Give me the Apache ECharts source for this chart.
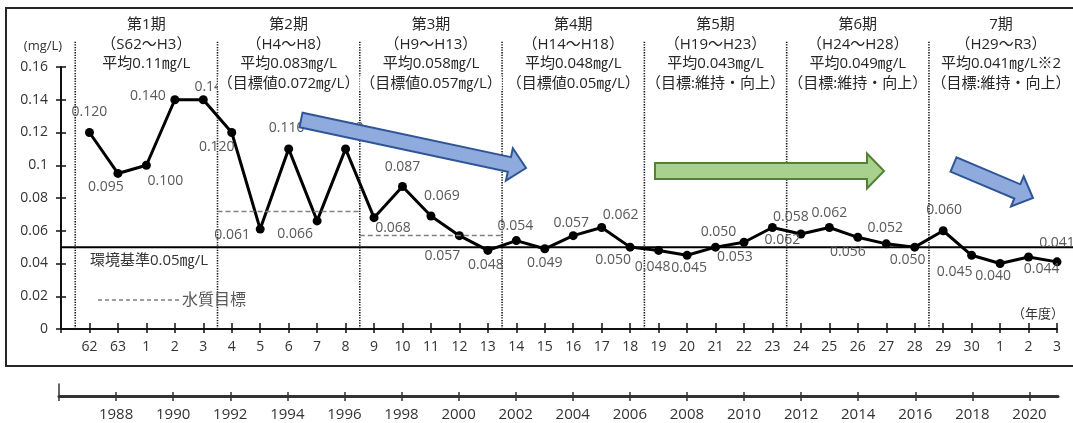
<!DOCTYPE html>
<html>
<head>
<meta charset="utf-8">
<script src="https://cdn.jsdelivr.net/npm/echarts@6/dist/echarts.min.js"></script>
<style>
  html, body { margin: 0; padding: 0; background: #fff; }
  #chart { width: 1073px; height: 423px; }
</style>
</head>
<body>
<div id="chart"></div>
<script>
// Fiscal years S62 (1987) through R3 (2021)
const fiscalYears = [
  1987, 1988, 1989, 1990, 1991, 1992, 1993, 1994, 1995, 1996,
  1997, 1998, 1999, 2000, 2001, 2002, 2003, 2004, 2005, 2006,
  2007, 2008, 2009, 2010, 2011, 2012, 2013, 2014, 2015, 2016,
  2017, 2018, 2019, 2020, 2021
];
// Japanese era year shown under each fiscal year (昭和62・63, 平成1-30, 令和1-3)
const eraLabels = [
  '62', '63', '1', '2', '3', '4', '5', '6', '7', '8',
  '9', '10', '11', '12', '13', '14', '15', '16', '17', '18',
  '19', '20', '21', '22', '23', '24', '25', '26', '27', '28',
  '29', '30', '1', '2', '3'
];
// Annual mean concentration (mg/L)
const concentration = [
  0.120, 0.095, 0.100, 0.140, 0.140, 0.120, 0.061, 0.110, 0.066, 0.110,
  0.068, 0.087, 0.069, 0.057, 0.048, 0.054, 0.049, 0.057, 0.062, 0.050,
  0.048, 0.045, 0.050, 0.053, 0.062, 0.058, 0.062, 0.056, 0.052, 0.050,
  0.060, 0.045, 0.040, 0.044, 0.041
];
const yTickLabels = ['0', '0.02', '0.04', '0.06', '0.08', '0.1', '0.12', '0.14', '0.16'];

// Environmental standard and per-period water quality targets
const envStandard = 0.05;
const targetSegments = [
  { from: 1991.5, to: 1996.5, value: 0.072 },
  { from: 1996.5, to: 2001.5, value: 0.057 }
];

// Period boundaries (between fiscal years) and their headings
const periodDividers = [1986.5, 1991.5, 1996.5, 2001.5, 2006.5, 2011.5, 2016.5];
const periodTitles = [
  ['第1期', '（S62〜H3）', '平均0.11㎎/L'],
  ['第2期', '（H4〜H8）', '平均0.083㎎/L', '（目標値0.072㎎/L）'],
  ['第3期', '（H9〜H13）', '平均0.058㎎/L', '（目標値0.057㎎/L）'],
  ['第4期', '（H14〜H18）', '平均0.048㎎/L', '（目標値0.05㎎/L）'],
  ['第5期', '（H19〜H23）', '平均0.043㎎/L', '（目標:維持・向上）'],
  ['第6期', '（H24〜H28）', '平均0.049㎎/L', '（目標:維持・向上）'],
  ['7期', '（H29〜R3）', '平均0.041㎎/L※2', '（目標:維持・向上）']
];

// Value label placement, pixel offset from each point
const labelOffsets = [
  [0, -20], [-12, 14], [19, 16], [-27, -4], [9, -13],
  [-15, 15], [-28, 6], [-2, -21], [-22, 13], [0, -21],
  [19, 10], [0, -20], [11, -20], [-17, 20], [-2, 15],
  [-1, -15], [0, 14], [-2, -13], [19, -12], [-17, 13],
  [-6, 17], [2, 13], [3, -15], [-9, 15], [10, 13],
  [-10, -17], [0, -14], [-10, 15], [-1, -16], [-7, 13],
  [1, -21], [-17, 17], [-7, 13], [13, 12], [0, -19]
];

// ---- layout ----
const W = 1073, H = 423;
const FONT = '"Open Sans", "Noto Sans CJK JP", sans-serif';
const plot = { left: 61, right: 1057, top: 67, bottom: 329 };
const xMin = fiscalYears[0] - 1, xMax = fiscalYears[fiscalYears.length - 1], yMax = 0.16;
// overlay area used for reference lines reaching beyond the plot box
const overlay = { top: 41, right: 1073 };
const pxPerYear = (plot.right - plot.left) / (xMax - xMin);
const xMaxExt = xMin + (overlay.right - plot.left) / pxPerYear;
const yMaxExt = yMax * (plot.bottom - overlay.top) / (plot.bottom - plot.top);
const yearAxis = { left: 59, right: 1058, top: 384, line: 396 };

const yearCats = [String(xMin)].concat(fiscalYears.map(String));
const evenYearTick = (i, v) => i > 0 && Number(v) % 2 === 0;

const seriesData = fiscalYears.map((yr, i) => ({
  value: [yr, concentration[i]],
  label: { offset: labelOffsets[i] }
}));

const chart = echarts.init(document.getElementById('chart'), null, { renderer: 'canvas' });

const axisBlack = '#111';
const textDark = '#333';

const option = {
  animation: false,
  backgroundColor: '#fff',
  textStyle: { fontFamily: FONT },
  grid: [
    { left: plot.left, right: W - plot.right, top: plot.top, bottom: H - plot.bottom },
    { left: plot.left, right: W - overlay.right, top: overlay.top, bottom: H - plot.bottom },
    { left: yearAxis.left, right: W - yearAxis.right, top: yearAxis.top, bottom: H - yearAxis.line }
  ],
  xAxis: [
    {
      gridIndex: 0, type: 'value', min: xMin, max: xMax, interval: 1, position: 'bottom',
      axisLine: { lineStyle: { color: axisBlack, width: 2 } },
      axisTick: { length: 4, lineStyle: { color: axisBlack, width: 1.5 } },
      axisLabel: {
        margin: 11, color: textDark, fontSize: 14, fontFamily: FONT,
        formatter: v => {
          const i = Math.round(v) - fiscalYears[0];
          return i >= 0 && i < eraLabels.length ? eraLabels[i] : '';
        }
      },
      splitLine: { show: false }
    },
    {
      gridIndex: 0, type: 'value', min: xMin, max: xMax, interval: 1, position: 'bottom',
      axisLine: { show: false },
      axisTick: { inside: true, length: 6, lineStyle: { color: axisBlack, width: 1.5 } },
      axisLabel: { show: false },
      splitLine: { show: false }
    },
    { gridIndex: 1, type: 'value', min: xMin, max: xMaxExt, show: false },
    {
      gridIndex: 2, type: 'category', data: yearCats, boundaryGap: false, position: 'bottom',
      axisLine: { lineStyle: { color: '#333', width: 3 } },
      axisTick: { length: 5, interval: (i, v) => i === 0 || evenYearTick(i, v), lineStyle: { color: '#333', width: 1.5 } },
      axisLabel: { interval: evenYearTick, margin: 11, color: textDark, fontSize: 15, fontFamily: FONT },
      splitLine: { show: false }
    },
    {
      gridIndex: 2, type: 'category', data: yearCats, boundaryGap: false, position: 'bottom',
      axisLine: { show: false },
      axisTick: { inside: true, length: 4, interval: evenYearTick, lineStyle: { color: '#333', width: 1.5 } },
      axisLabel: { show: false },
      splitLine: { show: false }
    }
  ],
  yAxis: [
    {
      gridIndex: 0, type: 'value', min: 0, max: yMax, interval: 0.02, position: 'left',
      axisLine: { show: true, lineStyle: { color: axisBlack, width: 2 } },
      axisTick: { show: true, length: 5, lineStyle: { color: axisBlack, width: 1.5 } },
      axisLabel: {
        margin: 13, color: textDark, fontSize: 14, fontFamily: FONT,
        formatter: (v, i) => yTickLabels[i]
      },
      splitLine: { show: false }
    },
    {
      gridIndex: 0, type: 'value', min: 0, max: yMax, interval: 0.02, position: 'left',
      axisLine: { show: false },
      axisTick: { show: true, inside: true, length: 5, lineStyle: { color: axisBlack, width: 1.5 } },
      axisLabel: { show: false },
      splitLine: { show: false }
    },
    { gridIndex: 1, type: 'value', min: 0, max: yMaxExt, show: false },
    {
      gridIndex: 2, type: 'value', min: 0, max: 1,
      axisLine: { show: true, lineStyle: { color: '#333', width: 1.5 } },
      axisTick: { show: false }, axisLabel: { show: false }, splitLine: { show: false }
    }
  ],
  series: [
    {
      // period dividers (dotted)
      type: 'custom', xAxisIndex: 2, yAxisIndex: 2, silent: true, z: 1,
      data: periodDividers.map(x => [x, 0]),
      encode: { x: 0, y: 1 },
      renderItem: (params, api) => {
        const x = api.value(0);
        const p0 = api.coord([x, 0]);
        const p1 = api.coord([x, yMaxExt]);
        return {
          type: 'line',
          shape: { x1: p0[0], y1: p0[1], x2: p1[0], y2: p1[1] },
          style: { stroke: '#1a1a1a', lineWidth: 1.6, lineDash: [1.3, 1.3] }
        };
      }
    },
    {
      // environmental standard
      name: '環境基準', type: 'line', xAxisIndex: 2, yAxisIndex: 2, silent: true, z: 2,
      data: [[xMin, envStandard], [xMaxExt, envStandard]],
      symbol: 'none', clip: false,
      lineStyle: { color: '#000', width: 2 }
    },
    {
      name: '年平均値', type: 'line', xAxisIndex: 0, yAxisIndex: 0, z: 3,
      data: seriesData,
      symbol: 'circle', symbolSize: 9,
      lineStyle: { color: '#000', width: 3 },
      itemStyle: { color: '#000' },
      label: {
        show: true, position: 'inside',
        color: '#595959', fontSize: 14, fontFamily: FONT, textBorderWidth: 0,
        formatter: p => p.value[1].toFixed(3)
      },
      markLine: {
        silent: true, symbol: 'none', label: { show: false },
        lineStyle: { color: '#808080', width: 1.3, type: [5, 3] },
        data: targetSegments.map(t => [{ coord: [t.from, t.value] }, { coord: [t.to, t.value] }])
      }
    }
  ]
};

chart.setOption(option);

// ---- annotations ----
function arrowPoints(x1, y1, x2, y2, shaft, head, headLen) {
  const dx = x2 - x1, dy = y2 - y1, len = Math.hypot(dx, dy);
  const ux = dx / len, uy = dy / len, nx = -uy, ny = ux;
  const bx = x2 - ux * headLen, by = y2 - uy * headLen;
  return [
    [x1 + nx * shaft, y1 + ny * shaft],
    [bx + nx * shaft, by + ny * shaft],
    [bx + nx * head, by + ny * head],
    [x2, y2],
    [bx - nx * head, by - ny * head],
    [bx - nx * shaft, by - ny * shaft],
    [x1 - nx * shaft, y1 - ny * shaft]
  ];
}
const trendArrows = [
  { pts: arrowPoints(301, 120, 526, 168, 7.5, 16.5, 17), fill: '#8FAADC', stroke: '#2F5597' },
  { pts: arrowPoints(655, 171, 884, 171, 8, 17.5, 17), fill: '#A9D18E', stroke: '#548235' },
  { pts: arrowPoints(953.5, 164.5, 1033, 198, 7.7, 16.3, 17), fill: '#8FAADC', stroke: '#2F5597' }
];

const xPx = v => chart.convertToPixel({ xAxisIndex: 2 }, v);
const columnEdges = periodDividers.concat([xMaxExt]);
const headerRowsY = [25, 45, 64, 83.5];

const graphics = [];
graphics.push({
  type: 'rect', z: 0, silent: true,
  shape: { x: 6, y: 8, width: 1090, height: 358 },
  style: { fill: 'none', stroke: '#262626', lineWidth: 2 }
});
trendArrows.forEach(a => graphics.push({
  type: 'polygon', z: 50, silent: true,
  shape: { points: a.pts },
  style: { fill: a.fill, stroke: a.stroke, lineWidth: 2, lineJoin: 'miter' }
}));
periodTitles.forEach((lines, k) => {
  const cx = (xPx(columnEdges[k]) + xPx(columnEdges[k + 1])) / 2;
  lines.forEach((t, r) => graphics.push({
    type: 'text', z: 60, silent: true, x: cx, y: headerRowsY[r],
    style: {
      text: t, font: '15px ' + FONT, fill: '#262626',
      align: 'center', verticalAlign: 'middle', backgroundColor: '#fff'
    }
  }));
});
graphics.push({
  type: 'text', z: 60, silent: true, x: 43, y: 46,
  style: { text: '(mg/L)', font: '13px ' + FONT, fill: textDark, align: 'center', verticalAlign: 'middle' }
});
graphics.push({
  type: 'text', z: 60, silent: true, x: 1064, y: 314,
  style: { text: '（年度）', font: '13px ' + FONT, fill: textDark, align: 'right', verticalAlign: 'middle' }
});
graphics.push({
  type: 'text', z: 60, silent: true, x: 90, y: 261,
  style: { text: '環境基準' + envStandard + '㎎/L', font: '15px ' + FONT, fill: textDark, align: 'left', verticalAlign: 'middle' }
});
graphics.push({
  type: 'line', z: 60, silent: true,
  shape: { x1: 98, y1: 300, x2: 182, y2: 300 },
  style: { stroke: '#808080', lineWidth: 1.3, lineDash: [4, 3] }
});
graphics.push({
  type: 'text', z: 60, silent: true, x: 182, y: 300,
  style: { text: '水質目標', font: '16px ' + FONT, fill: '#595959', align: 'left', verticalAlign: 'middle' }
});

chart.setOption({ graphic: graphics });
</script>
</body>
</html>
